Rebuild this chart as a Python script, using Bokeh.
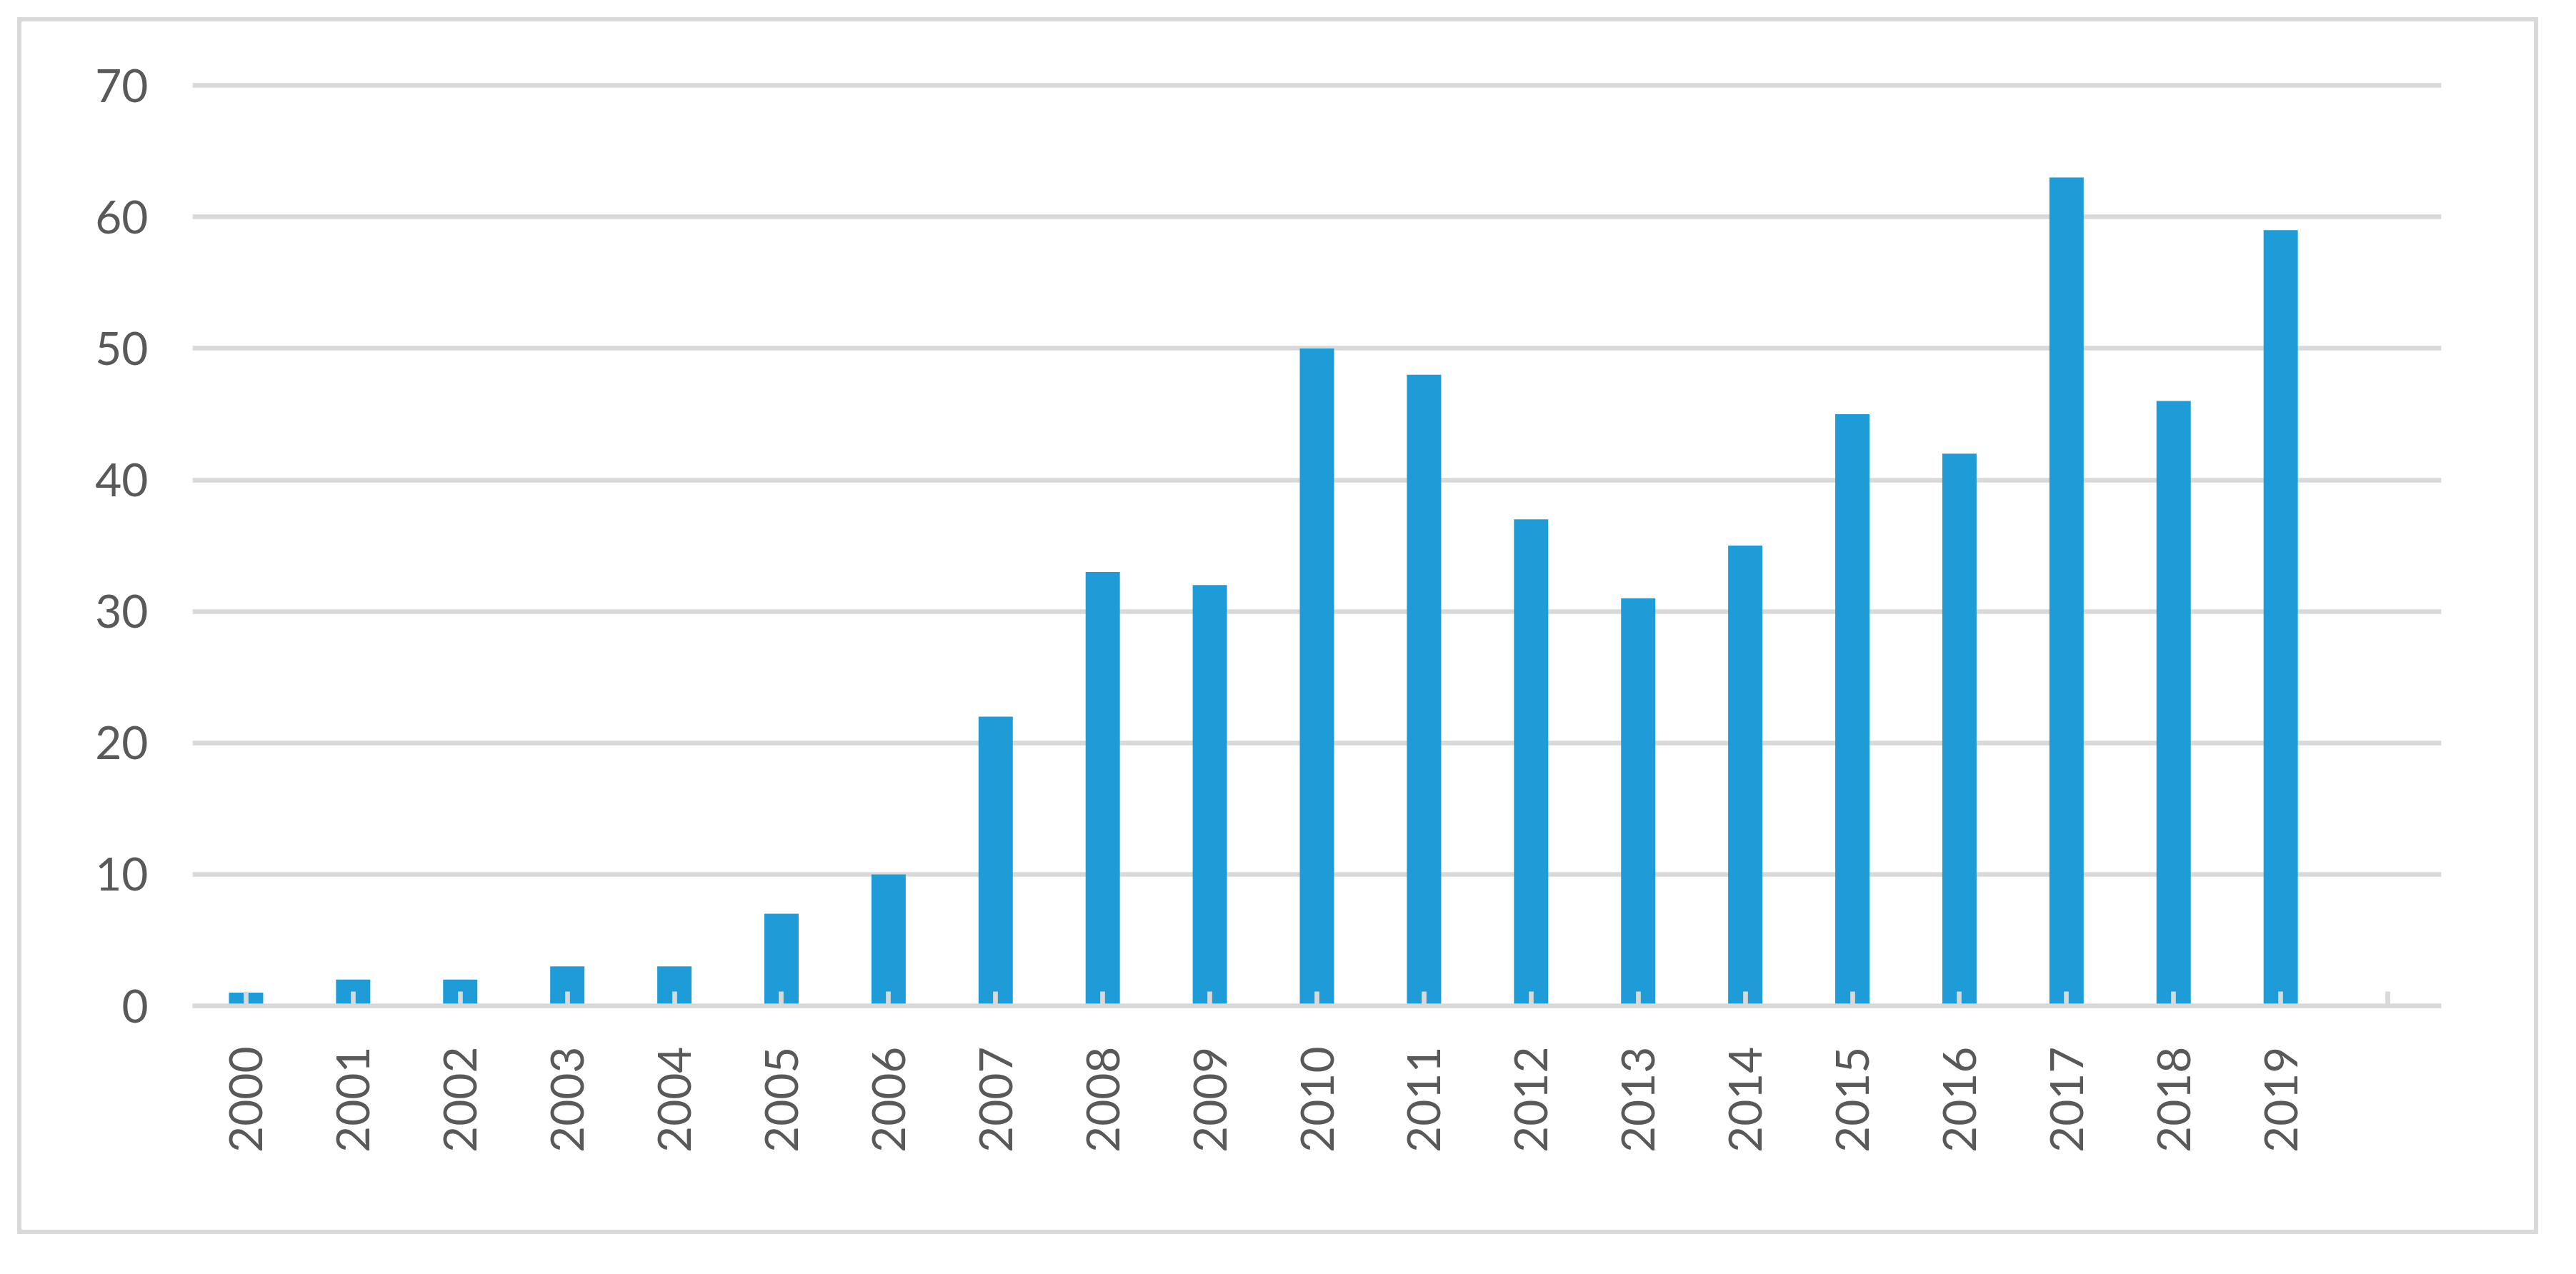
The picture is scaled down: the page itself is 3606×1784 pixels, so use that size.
import math
from bokeh.plotting import figure
from bokeh.models import FactorRange, Range1d, SingleIntervalTicker, ColumnDataSource
from bokeh.embed import file_html
from bokeh.resources import INLINE

# ---- data ----
years = ["2000", "2001", "2002", "2003", "2004", "2005", "2006", "2007", "2008", "2009",
         "2010", "2011", "2012", "2013", "2014", "2015", "2016", "2017", "2018", "2019"]
counts = [1, 2, 2, 3, 3, 7, 10, 22, 33, 32, 50, 48, 37, 31, 35, 45, 42, 63, 46, 59]
extra_categories = [""]          # empty trailing category on the axis
y_ticks_step = 10
y_max = 70

GRID = "#d9d9d9"
TEXT = "#595959"
BAR = "#1e9cd8"
FONT = "Lato"

W, H = 3577, 1752

src = ColumnDataSource(dict(year=years, count=counts))

p = figure(
    width=W, height=H,
    x_range=FactorRange(*(years + extra_categories), range_padding=0),
    y_range=Range1d(0, y_max + 0.5),
    output_backend="svg", toolbar_location=None,
    min_border_left=269, min_border_right=W - 3417,
    min_border_top=110, min_border_bottom=344,
    styles={"outline": "6.7px solid #d9d9d9", "outline-offset": "-30.7px",
            "background-color": "white"},
)
p.background_fill_color = "white"
p.border_fill_color = None
p.outline_line_color = None

p.vbar(x="year", top="count", width=0.32, source=src,
       fill_color=BAR, line_color=None)

# grid
p.xgrid.grid_line_color = None
p.ygrid.grid_line_color = GRID
p.ygrid.grid_line_width = 6.7
p.yaxis.ticker = SingleIntervalTicker(interval=y_ticks_step)

# y axis
yax = p.yaxis[0]
yax.axis_line_color = None
yax.major_tick_line_color = None
yax.minor_tick_line_color = None
yax.major_tick_out = 0
yax.major_tick_in = 0
yax.major_label_standoff = 58
yax.major_label_text_font = FONT
yax.major_label_text_font_size = "64px"
yax.major_label_text_color = TEXT

# x axis
xax = p.xaxis[0]
xax.axis_line_color = GRID
xax.axis_line_width = 6.7
xax.major_tick_line_color = GRID
xax.major_tick_line_width = 6.7
xax.major_tick_in = 20
xax.major_tick_out = 0
xax.major_label_standoff = 57
xax.major_label_orientation = math.pi / 2
xax.major_label_text_font = FONT
xax.major_label_text_font_size = "64px"
xax.major_label_text_color = TEXT

open("out.html", "w").write(file_html(p, INLINE))
